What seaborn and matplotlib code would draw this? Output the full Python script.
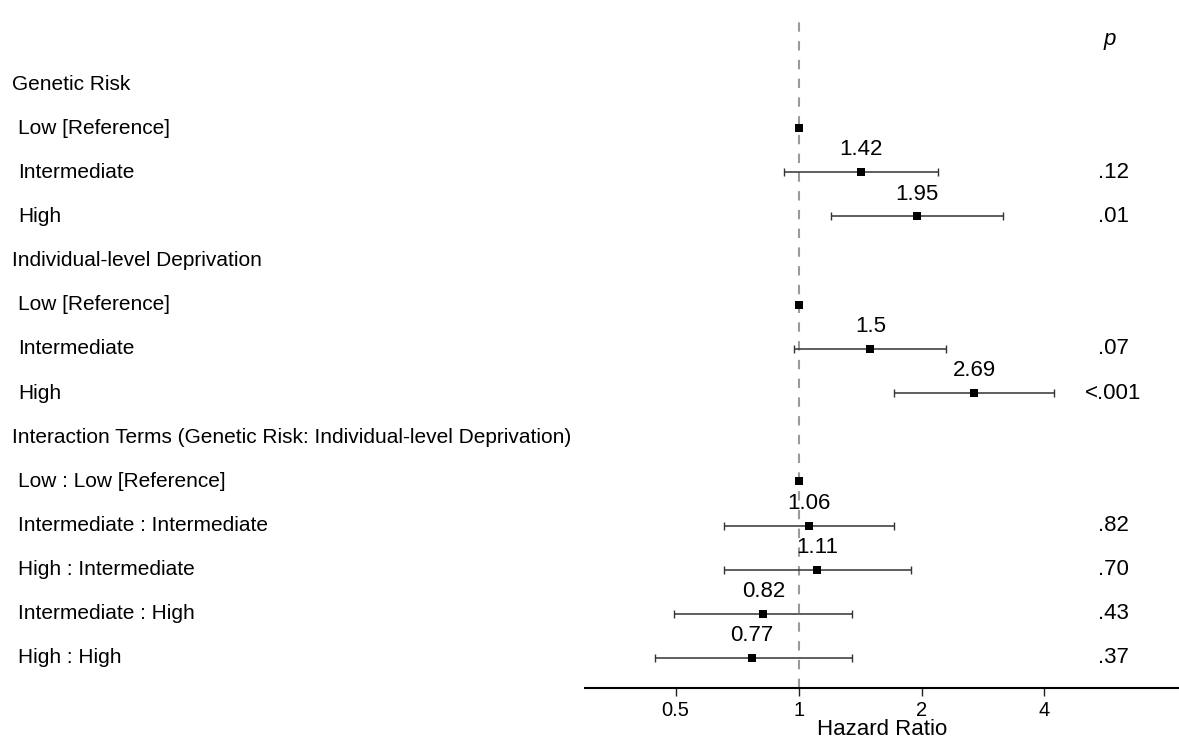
import numpy as np
import pandas as pd
import matplotlib
matplotlib.use("Agg")
import matplotlib.pyplot as plt
import matplotlib.transforms as mtransforms
import seaborn as sns

# Row labels of the forest plot (group headers and their levels)
row_labels = [
    "Genetic Risk",
    "Low [Reference]",
    "Intermediate",
    "High",
    "Individual-level Deprivation",
    "Low [Reference]",
    "Intermediate",
    "High",
    "Interaction Terms (Genetic Risk: Individual-level Deprivation)",
    "Low : Low [Reference]",
    "Intermediate : Intermediate",
    "High : Intermediate",
    "Intermediate : High",
    "High : High",
]
is_header = [True, False, False, False, True, False, False, False,
             True, False, False, False, False, False]

# Hazard ratios with 95% confidence limits (NaN where not applicable)
nan = np.nan
hazard_ratio = [nan, 1.00, 1.42, 1.95, nan, 1.00, 1.50, 2.69,
                nan, 1.00, 1.06, 1.11, 0.82, 0.77]
ci_lower = [nan, nan, 0.92, 1.20, nan, nan, 0.975, 1.71,
            nan, nan, 0.657, 0.657, 0.496, 0.445]
ci_upper = [nan, nan, 2.19, 3.17, nan, nan, 2.30, 4.23,
            nan, nan, 1.71, 1.885, 1.354, 1.35]
hr_labels = ["", "", "1.42", "1.95", "", "", "1.5", "2.69",
             "", "", "1.06", "1.11", "0.82", "0.77"]
p_values = ["", "", ".12", ".01", "", "", ".07", "<.001",
            "", "", ".82", ".70", ".43", ".37"]

x_ticks = [0.5, 1, 2, 4]
x_tick_labels = ["0.5", "1", "2", "4"]

sns.set_theme(style="white")
plt.rcParams["font.family"] = ["Liberation Sans", "DejaVu Sans"]

df = pd.DataFrame({
    "row": np.arange(len(row_labels)),
    "hr": hazard_ratio,
    "lo": ci_lower,
    "hi": ci_upper,
})

fig = plt.figure(figsize=(11.79, 7.40), dpi=100)
ax = fig.add_axes([0.4962, 0.0709, 0.5038, 0.9088])

# Reference line at HR = 1
ax.axvline(1, color="#9a9a9a", lw=1.5, dashes=(4.5, 4.5), zorder=1)

# Confidence intervals
ci = df.dropna(subset=["lo", "hi"])
ax.errorbar(ci["hr"], ci["row"],
            xerr=[ci["hr"] - ci["lo"], ci["hi"] - ci["hr"]],
            fmt="none", ecolor="#333333", elinewidth=1.1,
            capsize=3.0, capthick=1.0, zorder=2)

# Point estimates
pts = df.dropna(subset=["hr"])
sns.scatterplot(data=pts, x="hr", y="row", marker="s", s=38,
                color="black", edgecolor="black", linewidth=0,
                ax=ax, zorder=3, legend=False)

# Estimate labels above each point
for r, (h, lab) in enumerate(zip(hazard_ratio, hr_labels)):
    if lab:
        ax.text(h, r - 0.27, lab, ha="center", va="bottom",
                fontsize=16, color="black")

ax.set_xscale("log", base=2)
ax.set_xlim(0.300, 8.54)
ax.set_ylim(13.67, -1.563)
ax.set_xticks(x_ticks)
ax.set_xticklabels(x_tick_labels, fontsize=14.5)
ax.xaxis.set_minor_locator(matplotlib.ticker.NullLocator())
ax.set_yticks([])
ax.set_xlabel("Hazard Ratio", fontsize=16, labelpad=-1)
ax.set_ylabel("")
ax.tick_params(axis="x", direction="out", length=6, width=1.0,
               color="#222222", labelcolor="black", pad=4, bottom=True)
for side in ["top", "left", "right"]:
    ax.spines[side].set_visible(False)
ax.spines["bottom"].set_color("black")
ax.spines["bottom"].set_linewidth(1.5)
ax.xaxis.label.set_color("black")

# Row labels on the left
label_tf = mtransforms.blended_transform_factory(fig.transFigure, ax.transData)
for r, (lab, hdr) in enumerate(zip(row_labels, is_header)):
    x = 12 / 1179 if hdr else 18 / 1179
    ax.text(x, r, lab, transform=label_tf, ha="left", va="center",
            fontsize=15, color="black")

# p-value column
p_tf = mtransforms.blended_transform_factory(ax.transAxes, ax.transData)
ax.text(0.884, -1, "p", transform=p_tf, ha="center", va="center",
        fontsize=16, style="italic", color="black")
for r, pv in enumerate(p_values):
    if pv:
        ax.text(0.889, r, pv, transform=p_tf, ha="center", va="center",
                fontsize=16, color="black")

fig.savefig("out.png", dpi=100)
